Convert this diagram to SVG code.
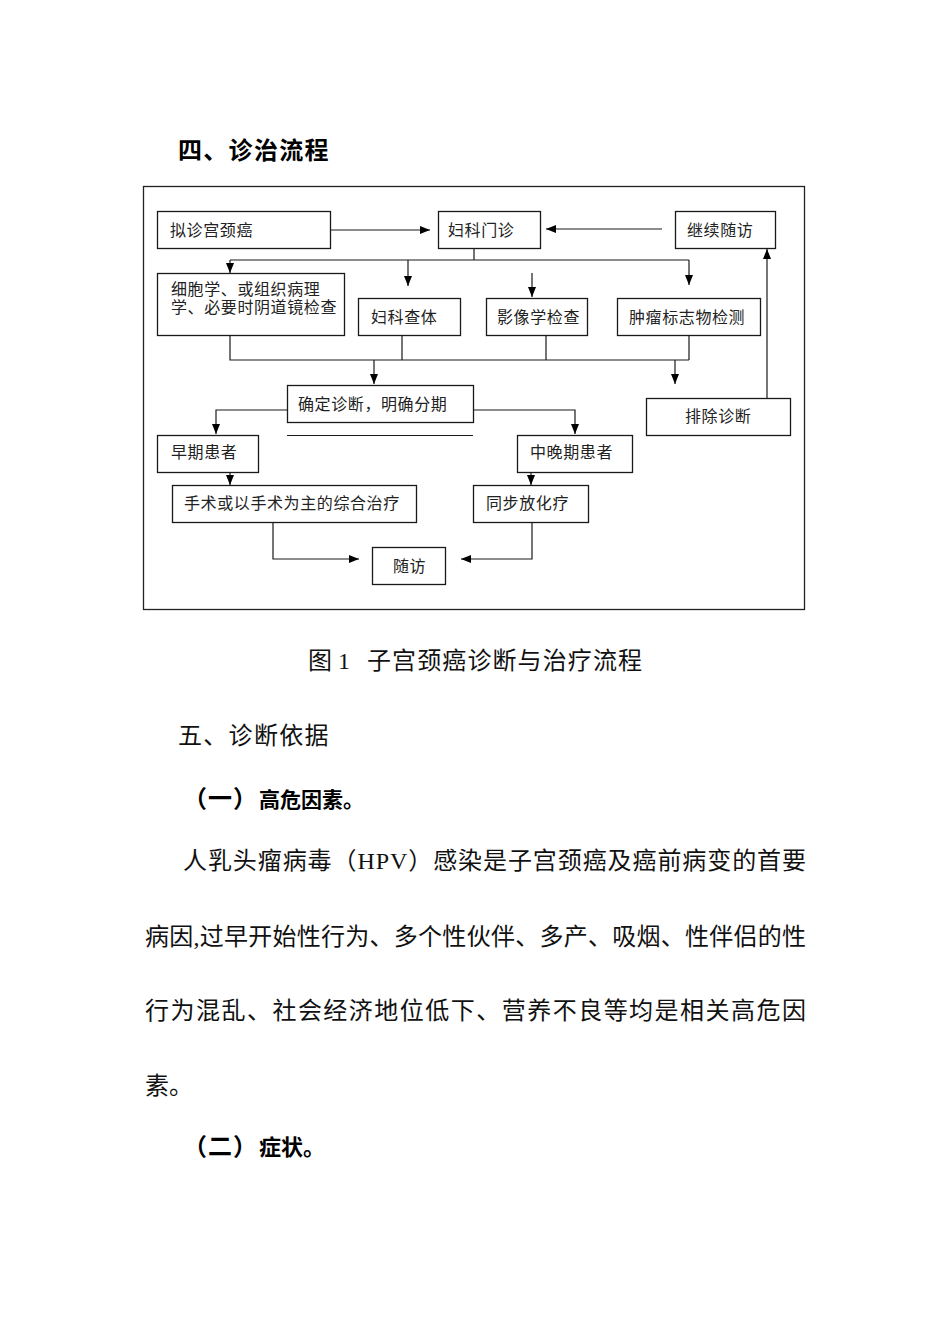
<svg xmlns="http://www.w3.org/2000/svg" width="950" height="1344" viewBox="0 0 950 1344">
<defs>
<style>
.bx{fill:#fff;stroke:#1a1a1a;stroke-width:1.3}
.t{font-family:"Liberation Serif","Noto Sans CJK SC",serif;font-size:16px;letter-spacing:0.6px;fill:#222}
.c{fill:none;stroke:#1a1a1a;stroke-width:1.2}
.a{marker-end:url(#ah)}
.p{font-family:"Liberation Serif","Noto Sans CJK SC",serif;font-size:24px;fill:#111}
.b{font-family:"Liberation Sans","Noto Sans CJK SC",sans-serif;font-weight:bold;fill:#000}
</style>
<marker id="ah" markerWidth="10" markerHeight="8" refX="10" refY="4" orient="auto" markerUnits="userSpaceOnUse"><path d="M0,0 L10,4 L0,8 z" fill="#000"/></marker>
</defs>
<rect width="950" height="1344" fill="#fff"/>
<text class="b" x="178" y="159" font-size="24" letter-spacing="1.3">四、诊治流程</text>
<rect x="143.5" y="186.5" width="661" height="423" fill="none" stroke="#222" stroke-width="1.3"/>
<g id="connectors">
<path class="c a" d="M330,230 H430"/>
<path class="c a" d="M662,229 H546"/>
<path class="c" d="M474,248 V260 M230,260 H689"/>
<path class="c a" d="M230,260 V273"/>
<path class="c a" d="M408,260 V286"/>
<path class="c a" d="M532,273 V297"/>
<path class="c a" d="M689,260 V285"/>
<path class="c" d="M230,335 V360 H689 M402,335 V360 M546,335 V360 M689,335 V360"/>
<path class="c a" d="M374,360 V384"/>
<path class="c a" d="M675,360 V384"/>
<path class="c a" d="M287,410 H216 V434"/>
<path class="c a" d="M473,410 H575 V434"/>
<path class="c" d="M287,435.5 H473"/>
<path class="c a" d="M230,472 V485"/>
<path class="c a" d="M531,472 V485"/>
<path class="c a" d="M273,522 V559 H359"/>
<path class="c a" d="M532,522 V559 H461"/>
<path class="c a" d="M767,398 V249"/>
</g>
<g id="n1"><rect class="bx" x="157.5" y="211.5" width="173" height="37"/><text class="t" x="170" y="235.5">拟诊宫颈癌</text></g>
<g id="n2"><rect class="bx" x="438.5" y="211.5" width="102" height="37"/><text class="t" x="448" y="235.5">妇科门诊</text></g>
<g id="n3"><rect class="bx" x="675.5" y="211.5" width="100" height="37"/><text class="t" x="687" y="235.5">继续随访</text></g>
<g id="n4"><rect class="bx" x="157.5" y="273.5" width="187" height="62"/><text class="t" x="171" y="294.5">细胞学、或组织病理</text><text class="t" x="171" y="313" letter-spacing="0.2">学、必要时阴道镜检查</text></g>
<g id="n5"><rect class="bx" x="358.5" y="298.5" width="102" height="37"/><text class="t" x="371" y="322.5">妇科查体</text></g>
<g id="n6"><rect class="bx" x="486.5" y="298.5" width="101" height="37"/><text class="t" x="497" y="322.5">影像学检查</text></g>
<g id="n7"><rect class="bx" x="617.5" y="298.5" width="143" height="37"/><text class="t" x="629" y="322.5">肿瘤标志物检测</text></g>
<g id="n8"><rect class="bx" x="287.5" y="385.5" width="186" height="37"/><text class="t" x="298" y="409.5">确定诊断，明确分期</text></g>
<g id="n9"><rect class="bx" x="646.5" y="398.5" width="144" height="37"/><text class="t" x="685" y="421.5">排除诊断</text></g>
<g id="n10"><rect class="bx" x="157.5" y="435.5" width="101" height="37"/><text class="t" x="171" y="457.5">早期患者</text></g>
<g id="n11"><rect class="bx" x="517.5" y="435.5" width="115" height="37"/><text class="t" x="530" y="457.5">中晚期患者</text></g>
<g id="n12"><rect class="bx" x="172.5" y="485.5" width="244" height="37"/><text class="t" x="184" y="508.5">手术或以手术为主的综合治疗</text></g>
<g id="n13"><rect class="bx" x="473.5" y="485.5" width="115" height="37"/><text class="t" x="486" y="508.5">同步放化疗</text></g>
<g id="n14"><rect class="bx" x="372.5" y="547.5" width="73" height="37"/><text class="t" x="393" y="571.5">随访</text></g>
<text class="p" y="669"><tspan x="308">图</tspan><tspan x="338">1</tspan><tspan x="367" letter-spacing="1.1">子宫颈癌诊断与治疗流程</tspan></text>
<text class="p" x="178" y="744" letter-spacing="1.3">五、诊断依据</text>
<text class="b" y="807"><tspan x="183" font-size="24" letter-spacing="1">（一）</tspan><tspan x="259" font-size="21">高危因素。</tspan></text>
<text class="p" x="183" y="869" textLength="623" lengthAdjust="spacing">人乳头瘤病毒（HPV）感染是子宫颈癌及癌前病变的首要</text>
<text class="p" x="145" y="945" textLength="661" lengthAdjust="spacing">病因,过早开始性行为、多个性伙伴、多产、吸烟、性伴侣的性</text>
<text class="p" x="145" y="1019" textLength="661" lengthAdjust="spacing">行为混乱、社会经济地位低下、营养不良等均是相关高危因</text>
<text class="p" x="145" y="1094">素。</text>
<text class="b" y="1155"><tspan x="183" font-size="24" letter-spacing="1">（二）</tspan><tspan x="259" font-size="22">症状。</tspan></text>
</svg>
